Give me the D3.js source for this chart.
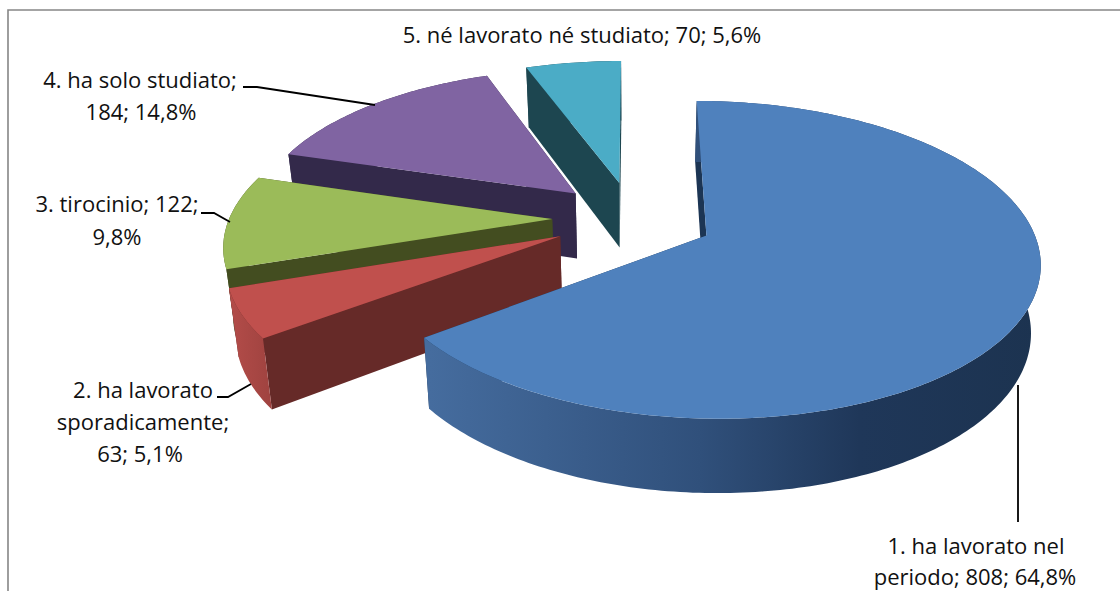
<!DOCTYPE html>
<html><head><meta charset="utf-8">
<script src="https://cdn.jsdelivr.net/npm/d3@7"></script>
<style>
html,body{margin:0;padding:0;background:#fff;overflow:hidden}
svg{display:block}
text{font-family:"Open Sans",sans-serif;font-size:22px;fill:#111}
</style></head><body>
<script>
const categories = ["1. ha lavorato nel periodo","2. ha lavorato sporadicamente","3. tirocinio","4. ha solo studiato","5. né lavorato né studiato"];
const values = [808,63,122,184,70];
const percentLabels = ["64,8%","5,1%","9,8%","14,8%","5,6%"];
const topColors = ["#4f81bd","#c0504d","#9bbb59","#8064a2","#4bacc6"];
const cutColors = ["#1c3554","#662a28","#434d20","#33294a","#1d4650"];

const W=1120,H=591;
const svg=d3.select("body").append("svg").attr("width",W).attr("height",H);
const defs=svg.append("defs");

// projection parameters
const cx=633,cy=218.5,rx=323,ry=150,persp=0.15,explode=0.25,depth=66,floor=0.976;
const sx=d3.scaleLinear().domain([-1,1]).range([cx-rx,cx+rx]);
const sy=d3.scaleLinear().domain([-1,1]).range([cy-ry,cy+ry]);
function project(X,Y,low){
  const s=1/(1-persp*Y), k=low?floor:1;
  return [sx(X*s*k), sy(Y*s*k)+(low?depth*s:0)];
}
const arcs=d3.pie().sort(null).value(d=>d)(values);
const line=d3.line().curve(d3.curveLinear);

function makeSlice(a,i){
  const mid=(a.startAngle+a.endAngle)/2;
  const ox=explode*Math.sin(mid), oy=-explode*Math.cos(mid);
  const n=Math.max(4,Math.ceil((a.endAngle-a.startAngle)*60));
  const angs=d3.range(n+1).map(j=>a.startAngle+(a.endAngle-a.startAngle)*j/n);
  const rim=low=>angs.map(t=>project(ox+Math.sin(t),oy-Math.cos(t),low));
  const apex=low=>project(ox,oy,low);
  const cut=t=>[apex(false),project(ox+Math.sin(t),oy-Math.cos(t),false),project(ox+Math.sin(t),oy-Math.cos(t),true),apex(true)];
  return {i,mid,angs,rim,apex,cut,a,yOf:t=>-Math.cos(t)};
}
const slices=arcs.map(makeSlice);

// wall gradients
const wallStops=[
  [[430,"#456c9e"],[700,"#30507b"],[860,"#1f3759"],[1040,"#1c3350"]],
  [[230,"#b34c49"],[270,"#a04340"]],
];
wallStops.forEach((st,k)=>{
  const g=defs.append("linearGradient").attr("id","wall"+k).attr("gradientUnits","userSpaceOnUse")
    .attr("x1",st[0][0]).attr("x2",st[st.length-1][0]).attr("y1",0).attr("y2",0);
  st.forEach(s=>g.append("stop").attr("offset",(s[0]-st[0][0])/(st[st.length-1][0]-st[0][0])).attr("stop-color",s[1]));
});

// frame
svg.append("path").attr("d",`M8 ${H+5}V10H${W+5}`).attr("fill","none").attr("stroke","#868686").attr("stroke-width",1.6);

const order=[4,3,2,1,0];
order.forEach(idx=>{
  const sl=slices[idx], g=svg.append("g");
  const wall=()=>g.append("path").attr("d",line(sl.rim(false).concat(sl.rim(true).reverse()))+"Z")
      .attr("fill",idx<2?`url(#wall${idx})`:cutColors[idx]);
  const isFront=idx<2;
  if(!isFront) wall();
  [sl.a.startAngle,sl.a.endAngle].sort((p,q)=>sl.yOf(p)-sl.yOf(q)).forEach(t=>{
    g.append("path").attr("d",line(sl.cut(t))+"Z").attr("fill",cutColors[idx]);
  });
  if(isFront) wall();
  g.append("path").attr("d",line([sl.apex(false)].concat(sl.rim(false)))+"Z").attr("fill",topColors[idx]);
});

// labels
const lab=(x,y,t)=>svg.append("text").attr("x",x).attr("y",y).attr("text-anchor","middle").text(t);
const v=values, p=percentLabels;
lab(582,43,`${categories[4]}; ${v[4]}; ${p[4]}`);
lab(140,88,`${categories[3]};`); lab(141,120,`${v[3]}; ${p[3]}`);
lab(117,212,`${categories[2]}; ${v[2]};`); lab(117,245,p[2]);
lab(143,398,"2. ha lavorato"); lab(143,430,"sporadicamente;"); lab(140,462,`${v[1]}; ${p[1]}`);
lab(976,554,"1. ha lavorato nel"); lab(975,585,`periodo; ${v[0]}; ${p[0]}`);

// leaders
const leaders=[
  [[1018,385],[1018,522]],
  [[217,397],[228,397],[251,384]],
  [[201,213],[214,213],[230,222]],
  [[243,87],[257,87],[375,105]],
];
leaders.forEach(l=>svg.append("path").attr("d",line(l)).attr("fill","none").attr("stroke","#000").attr("stroke-width",1.8));
</script>
</body></html>
